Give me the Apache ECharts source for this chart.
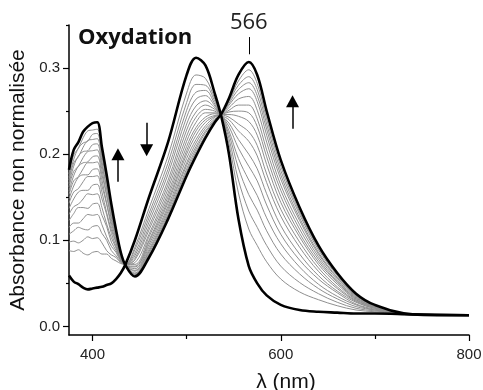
<!DOCTYPE html>
<html><head><meta charset="utf-8">
<script src="https://cdn.jsdelivr.net/npm/echarts@6/dist/echarts.min.js"></script>
<style>html,body{margin:0;padding:0;background:#fff}#c{width:483px;height:390px}</style>
</head><body><div id="c"></div>
<script>
// wavelengths (nm)
const wavelengths = [375, 380, 385, 390, 395, 400, 405, 410, 415, 420, 425, 430, 435, 445, 460, 480, 500, 510, 520, 530, 537, 545, 555, 566, 575, 585, 600, 620, 640, 660, 680, 700, 740, 800];
// initial spectrum (thick, peak ~512 nm)
const initialSpectrum = [0.059, 0.052, 0.049, 0.045, 0.043, 0.044, 0.045, 0.046, 0.048, 0.050, 0.055, 0.062, 0.072, 0.100, 0.150, 0.213, 0.292, 0.312, 0.303, 0.270, 0.243, 0.200, 0.125, 0.070, 0.050, 0.036, 0.025, 0.019, 0.017, 0.016, 0.015, 0.015, 0.014, 0.013];
// final spectrum (thick, peaks ~405 and 566 nm)
const finalSpectrum = [0.182, 0.205, 0.214, 0.226, 0.232, 0.236, 0.237, 0.208, 0.176, 0.142, 0.112, 0.086, 0.071, 0.058, 0.080, 0.124, 0.175, 0.198, 0.219, 0.237, 0.247, 0.265, 0.292, 0.307, 0.292, 0.250, 0.193, 0.138, 0.094, 0.062, 0.038, 0.025, 0.014, 0.013];
// intermediate spectra (grey)
const gray01 = [0.088, 0.087, 0.089, 0.085, 0.083, 0.086, 0.087, 0.084, 0.084, 0.079, 0.076, 0.073, 0.072, 0.092, 0.137, 0.197, 0.271, 0.292, 0.288, 0.264, 0.244, 0.212, 0.155, 0.113, 0.094, 0.075, 0.055, 0.040, 0.031, 0.024, 0.019, 0.017, 0.014, 0.013];
const gray02 = [0.098, 0.099, 0.097, 0.100, 0.104, 0.102, 0.103, 0.097, 0.088, 0.083, 0.080, 0.074, 0.072, 0.089, 0.131, 0.189, 0.260, 0.281, 0.280, 0.261, 0.244, 0.218, 0.170, 0.134, 0.115, 0.094, 0.070, 0.051, 0.038, 0.028, 0.021, 0.018, 0.014, 0.013];
const gray03 = [0.107, 0.111, 0.115, 0.113, 0.112, 0.116, 0.117, 0.108, 0.100, 0.088, 0.082, 0.075, 0.072, 0.085, 0.126, 0.182, 0.251, 0.272, 0.274, 0.258, 0.244, 0.223, 0.184, 0.153, 0.135, 0.111, 0.084, 0.061, 0.044, 0.032, 0.023, 0.019, 0.014, 0.013];
const gray04 = [0.115, 0.120, 0.120, 0.125, 0.130, 0.129, 0.130, 0.118, 0.104, 0.093, 0.086, 0.076, 0.072, 0.082, 0.121, 0.176, 0.243, 0.264, 0.268, 0.256, 0.245, 0.227, 0.195, 0.170, 0.152, 0.126, 0.096, 0.069, 0.049, 0.035, 0.025, 0.019, 0.014, 0.013];
const gray05 = [0.123, 0.131, 0.138, 0.138, 0.137, 0.142, 0.143, 0.129, 0.116, 0.098, 0.088, 0.077, 0.072, 0.079, 0.116, 0.169, 0.235, 0.256, 0.262, 0.254, 0.245, 0.232, 0.207, 0.186, 0.169, 0.141, 0.107, 0.077, 0.055, 0.039, 0.026, 0.020, 0.014, 0.013];
const gray06 = [0.130, 0.139, 0.142, 0.148, 0.154, 0.153, 0.154, 0.138, 0.119, 0.103, 0.091, 0.077, 0.072, 0.077, 0.112, 0.164, 0.228, 0.249, 0.257, 0.252, 0.245, 0.236, 0.217, 0.200, 0.183, 0.154, 0.117, 0.084, 0.059, 0.041, 0.028, 0.021, 0.014, 0.013];
const gray07 = [0.137, 0.148, 0.156, 0.158, 0.158, 0.164, 0.165, 0.148, 0.130, 0.108, 0.093, 0.078, 0.072, 0.074, 0.107, 0.159, 0.221, 0.243, 0.252, 0.250, 0.245, 0.240, 0.227, 0.215, 0.198, 0.167, 0.128, 0.092, 0.064, 0.044, 0.029, 0.021, 0.014, 0.013];
const gray08 = [0.143, 0.156, 0.160, 0.168, 0.174, 0.174, 0.175, 0.156, 0.132, 0.112, 0.097, 0.079, 0.072, 0.072, 0.104, 0.154, 0.215, 0.237, 0.248, 0.248, 0.246, 0.243, 0.235, 0.226, 0.210, 0.177, 0.136, 0.098, 0.068, 0.046, 0.030, 0.022, 0.014, 0.013];
const gray09 = [0.148, 0.163, 0.173, 0.176, 0.176, 0.182, 0.183, 0.163, 0.142, 0.116, 0.098, 0.079, 0.071, 0.070, 0.100, 0.150, 0.209, 0.231, 0.243, 0.247, 0.246, 0.246, 0.244, 0.238, 0.222, 0.188, 0.144, 0.104, 0.072, 0.049, 0.031, 0.022, 0.014, 0.013];
const gray10 = [0.153, 0.169, 0.174, 0.183, 0.190, 0.190, 0.191, 0.170, 0.143, 0.120, 0.101, 0.080, 0.071, 0.069, 0.098, 0.146, 0.204, 0.227, 0.240, 0.245, 0.246, 0.249, 0.250, 0.248, 0.232, 0.197, 0.151, 0.108, 0.075, 0.051, 0.032, 0.023, 0.014, 0.013];
const gray11 = [0.157, 0.175, 0.186, 0.190, 0.191, 0.197, 0.198, 0.176, 0.152, 0.124, 0.103, 0.081, 0.071, 0.067, 0.095, 0.143, 0.200, 0.222, 0.237, 0.244, 0.246, 0.251, 0.257, 0.257, 0.241, 0.205, 0.158, 0.113, 0.078, 0.052, 0.033, 0.023, 0.014, 0.013];
const gray12 = [0.162, 0.180, 0.186, 0.196, 0.203, 0.204, 0.205, 0.182, 0.153, 0.127, 0.106, 0.082, 0.071, 0.065, 0.092, 0.139, 0.195, 0.217, 0.233, 0.243, 0.246, 0.254, 0.264, 0.267, 0.251, 0.214, 0.164, 0.118, 0.081, 0.054, 0.034, 0.023, 0.014, 0.013];
const gray13 = [0.166, 0.186, 0.198, 0.203, 0.204, 0.211, 0.212, 0.187, 0.161, 0.131, 0.107, 0.083, 0.071, 0.064, 0.089, 0.136, 0.190, 0.213, 0.230, 0.241, 0.246, 0.257, 0.270, 0.276, 0.261, 0.222, 0.171, 0.123, 0.084, 0.056, 0.035, 0.024, 0.014, 0.013];
const gray14 = [0.170, 0.190, 0.197, 0.208, 0.216, 0.217, 0.218, 0.192, 0.161, 0.134, 0.110, 0.084, 0.071, 0.062, 0.087, 0.133, 0.187, 0.209, 0.227, 0.240, 0.247, 0.259, 0.275, 0.283, 0.268, 0.229, 0.176, 0.126, 0.086, 0.057, 0.036, 0.024, 0.014, 0.013];
const gray15 = [0.173, 0.194, 0.207, 0.213, 0.215, 0.223, 0.224, 0.197, 0.169, 0.137, 0.111, 0.084, 0.071, 0.061, 0.085, 0.130, 0.183, 0.206, 0.225, 0.239, 0.247, 0.261, 0.280, 0.290, 0.275, 0.235, 0.181, 0.130, 0.089, 0.059, 0.036, 0.024, 0.014, 0.013];
const gray16 = [0.177, 0.199, 0.207, 0.219, 0.227, 0.228, 0.229, 0.202, 0.169, 0.139, 0.113, 0.085, 0.071, 0.060, 0.083, 0.128, 0.180, 0.203, 0.222, 0.238, 0.247, 0.262, 0.285, 0.298, 0.282, 0.241, 0.186, 0.133, 0.091, 0.060, 0.037, 0.025, 0.014, 0.013];

// axis ticks
const xTickLabels = [400, 600, 800];
const xMinorTicks = [500, 700];
const yTickLabels = [0, 0.1, 0.2, 0.3];
const yMinorTicks = [0.05, 0.15, 0.25, 0.35];

// annotations: arrows (x in nm, from -> to in absorbance), peak label
const arrowX = [427, 457.5, 612.5];
const arrowFrom = [0.168, 0.2365, 0.2295];
const arrowTo = [0.200, 0.2045, 0.2615];
const peakLabel = '566';
const peakX = 566;
const peakTick = [0.316, 0.336];

const grays = [gray01, gray02, gray03, gray04, gray05, gray06, gray07, gray08, gray09, gray10, gray11, gray12, gray13, gray14, gray15, gray16];
const toPairs = arr => wavelengths.map((w, i) => [w, arr[i]]);

const series = [];
grays.forEach(g => {
  series.push({
    type: 'line', data: toPairs(g), symbol: 'none', smooth: 0.35,
    lineStyle: { color: '#8f8f8f', width: 1 }, silent: true, z: 2
  });
});
[initialSpectrum, finalSpectrum].forEach(s => {
  series.push({
    type: 'line', data: toPairs(s), symbol: 'none', smooth: 0.35,
    lineStyle: { color: '#000', width: 2.6 }, silent: true, z: 3
  });
});
series.push({
  type: 'line', data: [], symbol: 'none', silent: true, z: 4,
  markLine: {
    silent: true, animation: false,
    symbol: ['none', 'triangle'], symbolSize: [13, 12],
    lineStyle: { color: '#000', width: 1.5, type: 'solid' },
    label: { show: false },
    data: arrowX.map((x, i) => [{ coord: [x, arrowFrom[i]] }, { coord: [x, arrowTo[i]] }])
  }
});
series.push({
  type: 'line', data: [], symbol: 'none', silent: true, z: 4,
  markLine: {
    silent: true, animation: false,
    symbol: ['none', 'none'],
    lineStyle: { color: '#000', width: 1, type: 'solid' },
    label: { show: true, position: 'end', distance: 3, formatter: peakLabel,
      fontFamily: 'Open Sans', fontSize: 22, color: '#222' },
    data: [[{ coord: [peakX, peakTick[0]] }, { coord: [peakX, peakTick[1]] }]]
  }
});

const axisFont = { fontFamily: 'Liberation Sans', fontSize: 15, color: '#222' };
const chart = echarts.init(document.getElementById('c'), null, { renderer: 'canvas' });
chart.setOption({
  animation: false,
  backgroundColor: '#fff',
  title: {
    text: 'Oxydation', left: 78, top: 27, padding: 0,
    textStyle: { fontFamily: 'Open Sans', fontWeight: 'bold', fontSize: 22, color: '#111' }
  },
  grid: { left: 69, right: 14, top: 25, bottom: 55, containLabel: false, outerBoundsMode: 'none' },
  xAxis: [{
    type: 'value', min: 375, max: 800,
    name: 'λ (nm)', nameLocation: 'middle', nameGap: 37,
    nameTextStyle: { fontFamily: 'Liberation Sans', fontSize: 21, color: '#111', padding: [0, 0, 0, 34] },
    axisLine: { show: true, onZero: false, lineStyle: { color: '#000', width: 1.5 } },
    axisTick: { show: true, length: 6, customValues: xTickLabels, lineStyle: { color: '#000', width: 1.2 } },
    axisLabel: { show: true, margin: 12, customValues: xTickLabels, ...axisFont },
    splitLine: { show: false }
  }, {
    type: 'value', min: 375, max: 800, position: 'bottom',
    axisLine: { show: false, onZero: false },
    axisTick: { show: true, inside: false, length: 4, customValues: xMinorTicks, lineStyle: { color: '#000', width: 1.2 } },
    axisLabel: { show: false },
    splitLine: { show: false }
  }],
  yAxis: [{
    type: 'value', min: -0.01, max: 0.35,
    name: 'Absorbance non normalisée', nameLocation: 'middle', nameGap: 34,
    nameTextStyle: { fontFamily: 'Liberation Sans', fontSize: 21, color: '#111' },
    axisLine: { show: true, onZero: false, lineStyle: { color: '#000', width: 1.5 } },
    axisTick: { show: true, length: 6, customValues: yTickLabels, lineStyle: { color: '#000', width: 1.2 } },
    axisLabel: { show: true, margin: 9, customValues: yTickLabels, formatter: v => v.toFixed(1), ...axisFont },
    splitLine: { show: false }
  }, {
    type: 'value', min: -0.01, max: 0.35, position: 'left',
    axisLine: { show: false, onZero: false },
    axisTick: { show: true, inside: false, length: 3, customValues: yMinorTicks, lineStyle: { color: '#000', width: 1.2 } },
    axisLabel: { show: false },
    splitLine: { show: false }
  }],
  series: series
});
</script></body></html>
